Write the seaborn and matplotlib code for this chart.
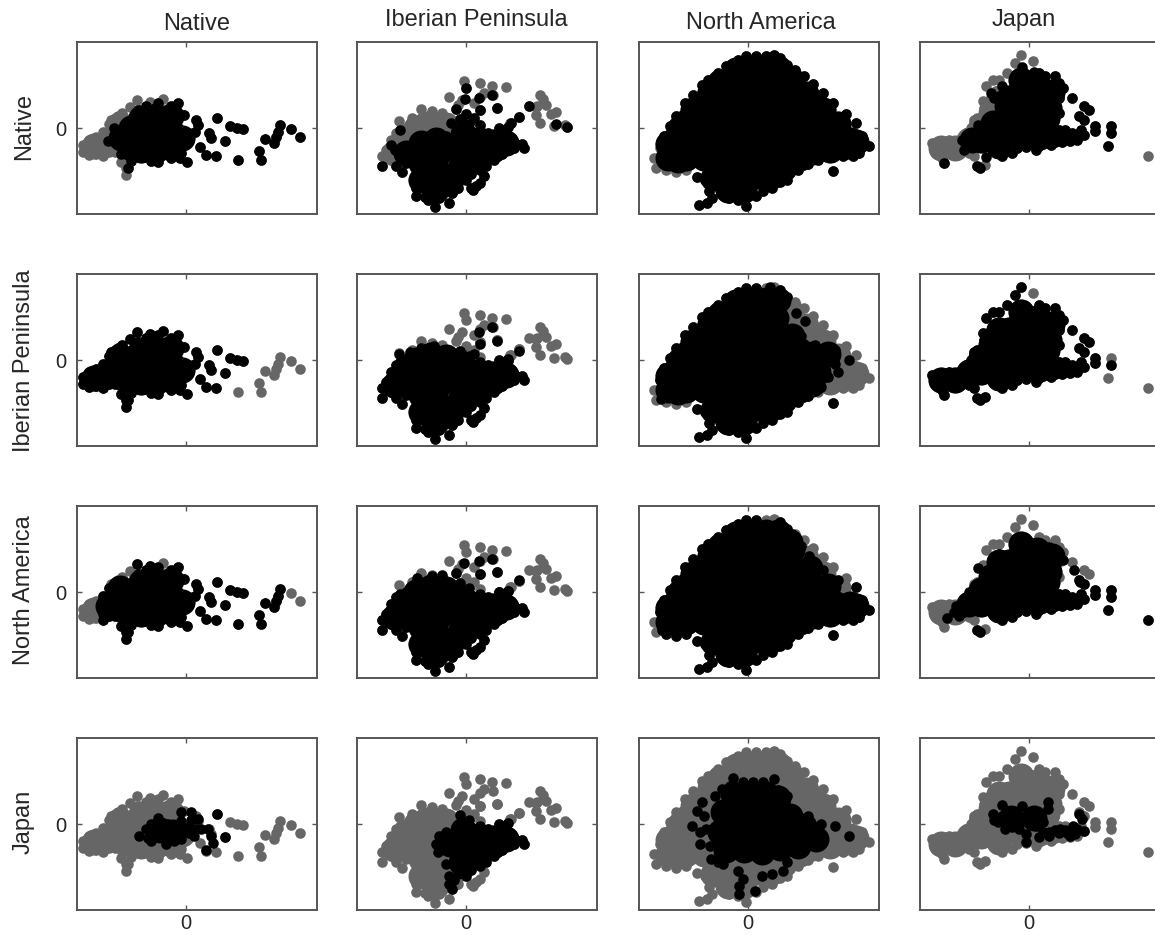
import numpy as np
import matplotlib
matplotlib.use("Agg")
import matplotlib.pyplot as plt
import seaborn as sns

WIDTH, HEIGHT = 1155, 935
GRAY = "#666666"
BLACK = "#000000"
TEXT = "#262626"
FRAME = "#555555"

REGIONS = ["Native", "Iberian Peninsula", "North America", "Japan"]
TICKS = [0]

# all points, offset from the 0 ticks of each panel
# CORE arrays are the solid middle of a cloud, drawn with a bigger dot

# --- Native column ---
N_TAIL_L = [(-103, -17), (-103, -24), (-97, -12), (-97, -20), (-97, -27), (-90, -9), (-90, -17), (-90, -26)]
N_TAIL_R = [(-83, -4), (-83, -12), (-83, -22), (-83, -28), (-77, 4), (-77, -5), (-77, -14), (-77, -24),
            (-71, 7), (-71, -2), (-71, -12), (-71, -24)]
N_UPPER_L = [(-75, 8), (-64, 15), (-56, 21), (-68, 12)]
N_UPPER_T = [(-49, 28), (-36, 26), (-23, 29)]
N_SPIKE = [(-60, -47), (-60, -40), (-65, -34)]
N_CORE = [(-65, -10), (-55, -20), (-55, 0), (-45, -22), (-45, -4), (-45, 10), (-30, -22), (-30, -5), (-30, 12),
          (-15, -20), (-15, -3), (-15, 12), (-4, -10)]
N_CORE_TAIL = [(-92, -18), (-78, -14), (-66, 4)]
N_EDGE = [(-78, -13), (-72, 0), (-65, -26), (-55, -33), (-50, 14), (-40, 22), (-28, 25), (-15, 22), (-8, 25),
          (-35, -33), (-28, -34), (-15, -30), (-5, -25), (2, -13), (3, -5), (-2, 13), (-6, -30), (-58, -40), (-48, 18)]
N_RIGHT = [(1, -34), (10, 8), (12, 3), (9, -4), (23, -5), (25, -10), (14, -19), (20, -27), (30, -28), (31, 10),
           (39, -13), (44, 2), (51, 0), (57, -1)]
N_FAR = [(52, -32), (73, -23), (75, -32), (79, -11), (88, -15), (90, -9), (92, -4), (94, 3), (105, -1), (114, -9)]
N_JAPAN = [(-47, -12), (-40, -5), (-38, -14), (-35, -17), (-28, 6), (-28, -3), (-28, -12), (-20, -3), (-20, -12),
           (-20, -20), (-12, -8), (-12, -17), (-5, -5), (-5, -15), (-5, -2), (-18, 0), (-35, 0), (-35, -8), (5, 12),
           (5, 4), (12, 5), (10, -5), (8, -12), (15, -5), (22, -5), (25, -12), (27, -19), (20, -26), (31, 10),
           (39, -13), (-5, 12), (-5, 3), (3, -3), (3, -9)]
N_JAPAN_CORE = [(-26, -6), (-13, -8)]

# --- Iberian Peninsula column ---
I_TOP = [(-2, 47), (0, 40), (14, 45), (26, 42), (40, 41), (-17, 31), (-4, 28), (-8, 23), (18, 35), (14, 31),
         (8, 25), (27, 33), (31, 20), (14, 18)]
I_FAR = [(63, 22), (71, 22), (74, 33), (77, 29), (80, 23), (70, 13), (70, 21), (74, 5), (85, 14), (90, 16),
         (88, 2), (99, 3), (101, 1), (53, 11), (44, 5)]
I_UL_HIGH = [(-67, 7), (-54, 10), (-45, 19), (-34, 17), (-24, 15), (-45, 10)]
I_UL_LOW = [(-84, -28), (-80, -22), (-75, -12), (-70, -5), (-60, 0), (-50, 0), (-40, 5), (-30, 8), (-20, 8),
            (-60, -10), (-50, -10), (-72, -18)]
I_LEFT_LOW = [(-71, -22), (-65, -28), (-84, -38), (-70, -38), (-64, -44), (-60, -35), (-52, -18), (-50, -30),
              (-60, -22), (-66, -2), (-75, -17)]
I_CORE_LEFT = [(-72, -25), (-62, -12), (-50, 0), (-35, 5), (-20, 3)]
I_CORE_SOUTH = [(-60, -25), (-45, -15), (-45, -35), (-45, -52), (-30, -12), (-30, -30), (-30, -48), (-30, -62),
                (-16, -55)]
I_SOUTH = [(-45, -50), (-50, -60), (-50, -68), (-41, -69), (-38, -72), (-31, -79), (-27, -70), (-17, -75),
           (-8, -60), (-40, -28), (10, -58), (14, -55), (5, -60), (7, -62), (18, -48)]
I_CORE_EAST = [(-16, -20), (-3, -6), (-2, -22), (-5, -38), (12, -15), (12, -30), (27, -14), (27, -22), (40, -15)]
I_EAST = [(-30, -20), (-27, -12), (-28, -28), (-20, -8), (-6, 9), (3, 4), (-10, -5), (5, -3), (14, -2), (22, -5),
          (33, 0), (42, 1), (32, -8), (40, -12), (40, -20), (36, -26), (48, -14), (48, -20), (56, -16), (58, -20),
          (28, -32), (20, -38), (14, -42), (5, -46), (0, -52), (-8, -50), (-17, -52), (-17, -60), (-14, -65),
          (-12, -56), (-20, -40)]
I_RIDGE = [(0, 14), (8, 10), (-5, 8), (-15, 5), (14, 3), (-10, 19), (14, 18), (31, 20), (45, 5), (53, 11)]
I_SPARSE_1 = [(0, 40), (-1, 29), (13, 30), (26, 33), (63, 22), (90, 4), (101, 1)]
I_SPARSE_2 = [(13, 28), (26, 33), (14, 16), (31, 19), (53, 9), (42, -1), (-32, 14), (-4, 6), (8, 6), (-67, 6),
              (-56, 8), (-45, 12)]
I_SPARSE_3 = [(-2, 29), (13, 31), (26, 33), (31, 20), (14, 18), (53, 12), (-34, 16), (-24, 17), (-10, 19),
              (-49, 14), (33, 0), (42, 1)]

# --- North America column ---
C_CORE_W = [(0, 60), (18, 60), (30, 60),
            (-25, 42), (-8, 42), (10, 42), (28, 42),
            (-45, 24), (-28, 24), (-10, 24), (8, 24), (26, 24), (44, 24),
            (-62, 6), (-44, 6), (-26, 6), (-8, 6), (10, 6), (28, 6), (46, 6), (64, 6), (80, 6),
            (-74, -12), (-56, -12), (-38, -12), (-20, -12), (-2, -12), (16, -12), (34, -12), (52, -12), (70, -12),
            (-80, -30), (-62, -30), (-44, -30), (-26, -30), (-8, -30), (10, -30), (28, -30), (46, -30),
            (-28, -48), (-10, -48), (8, -48), (24, -48),
            (-20, -62), (-4, -62)]
C_FILL_W = [(-38, 36), (-55, 18), (-68, 0), (-80, -16), (-12, 58), (-28, 46), (-35, -50), (36, -40), (52, -30),
            (64, -24), (-70, -32), (42, 50)]
C_CORE_NE = [(44, 42), (62, 24), (58, 34), (75, 18), (90, 4)]
C_CORE_E = [(88, -12), (102, -12), (82, -22), (100, -18), (108, -14)]
C_EDGE_W = [(8, 72), (-2, 72), (-10, 68), (-22, 62), (-30, 55), (-40, 48), (-46, 43), (-55, 33), (-63, 25),
            (-72, 12), (-78, 2), (-84, -8), (-51, -49), (-43, -52), (-39, -63), (-36, -70), (-49, -77), (-41, -75),
            (-19, -70), (-10, -72), (-2, -78), (8, -68), (15, -63), (24, -60), (32, -54), (39, -52), (50, -42),
            (60, -36), (85, -43), (39, 63), (32, 70)]
C_EDGE_TOP = [(26, 73), (18, 72)]
C_SW_A = [(-88, -20), (-82, -42), (-72, -44), (-62, -42)]
C_SW_B = [(-94, -30), (-92, -40)]
C_EDGE_NE = [(47, 58), (56, 52), (65, 44), (75, 35), (85, 25), (98, 14)]
C_EDGE_E = [(70, -32), (108, 5), (114, -8), (121, -18), (111, -25), (105, -28), (95, -28)]
C_ROW2 = [(48, 47), (57, 39), (53, 24), (56, 16), (67, 15), (77, 8), (87, 10), (101, 0), (87, -4), (90, -12),
          (80, -17), (73, -27), (22, 73), (-88, -20), (-87, -39)]
C_ROW3 = [(53, 46), (61, 36), (75, 22), (90, 12), (44, 58), (-86, -38)]
C_J_CORE = [(-15, 30), (2, 30), (18, 30), (-25, 12), (-8, 12), (10, 12), (28, 12), (42, 8), (-28, -8), (-10, -6),
            (8, -6), (26, -6), (44, -8), (60, -12), (-22, -26), (-4, -26), (14, -28), (32, -24), (50, -22), (68, -15),
            (30, 26), (56, -2)]
C_J_DOTS = [(-46, 22), (-51, 13), (-56, -2), (-48, -8), (-48, -20), (-37, -35), (-30, -38), (-25, -40), (-15, 46),
            (-5, 42), (5, 42), (15, 42), (26, 45), (-26, 35), (-33, 28), (-18, 38), (-44, 8), (-42, -5), (-38, -22),
            (-10, -47), (-5, -55), (-9, -70), (-9, -62), (7, -67), (14, -52), (24, -50), (35, -47), (39, -38),
            (87, -2), (101, -12), (73, 0), (60, 8), (39, 28), (30, 34)]

# --- Japan column ---
J_CORE = [(-8, 48), (8, 42), (-20, 30), (-5, 30), (12, 28), (-15, 12), (2, 12), (18, 10), (-32, -2), (-15, -6),
          (2, -6), (18, -4), (-48, -12), (-30, -18), (23, 36), (20, 20)]
J_CORE_LEFT = [(-30, 30), (-38, 15), (-48, 2), (-60, -12)]
J_CORE_SW_L = [(-88, -20)]
J_CORE_SW_R = [(-74, -20)]
J_ROW1_CORE = [(-36, 5), (-57, -12), (-22, 22)]
J_ROW4_CORE = [(-18, 6), (5, 6)]
J_NE = [(26, 52), (30, 45), (34, 40), (25, 40), (43, 30), (30, 30), (55, 22), (60, 18), (22, 22), (30, 15), (25, 8),
        (10, 55), (16, 52)]
J_STRAND = [(5, -8), (10, -18), (18, -12), (22, -17), (28, -10), (35, -8), (41, -13), (43, -5), (50, -8), (55, -7),
            (52, -2), (55, 8), (50, 12), (7, -22), (-3, -19), (-17, -25), (-27, -28), (-27, -22), (-10, -15),
            (33, -14), (26, -14), (14, -16), (48, -12), (36, -2), (30, -2), (-12, -20), (2, -16)]
J_APEX = [(-8, 73), (4, 67), (-14, 65), (-36, 48), (-43, 42), (-46, 27), (-55, 8), (-63, -5), (-22, 55), (-30, 48),
          (-38, 30), (-45, 20), (-52, 10), (-58, 0)]
J_SW = [(-97, -15), (-92, -15), (-88, -13), (-80, -12), (-94, -23), (-86, -20), (-78, -20), (-70, -12), (-70, -22),
        (-60, -25), (-55, -28), (-44, -37), (-80, -24)]
J_SW_LOW = [(-85, -35), (-87, -30), (-49, -40), (-52, -38)]
J_RIGHT = [(66, 2), (66, -3), (82, 2), (82, -5), (79, -18)]
J_OUT = [(119, -28)]
J_ROW1 = [(-7, 61), (5, 56), (-38, 35), (-35, 30), (-30, 32), (-29, 21), (-51, 3), (-67, -12), (-65, -22), (-43, -29),
          (-27, 42)]
J_ROW3 = [(-51, 24), (-73, -14), (-82, -26), (-75, -20), (-70, -24), (-40, 15), (-42, 22), (-30, 38), (-8, 52), (5, 48),
          (20, 45), (34, 32), (45, 22), (51, 10), (-60, 0), (-65, -20)]
J_ROW4 = [(-36, 10), (-27, 19), (-7, 18), (19, 22), (19, 15), (5, 13), (-31, 2), (-24, -5), (-9, 2), (0, 8), (7, -2),
          (-3, -10), (-3, -18), (10, -13), (20, -8), (31, -5), (41, -12), (44, -2), (55, -7), (50, 10), (53, 5),
          (14, 2), (3, 5), (-17, 3), (-27, 8), (-17, -3), (-10, -5), (-24, 5), (-14, 12), (26, -6), (36, -6),
          (14, -8), (48, -5), (38, -9), (30, -9), (20, -12), (46, -10), (10, 0), (-35, 4)]

# gray dots and cores per column
GRAY_DOTS = [
    N_TAIL_L + N_TAIL_R + N_UPPER_L + N_UPPER_T + N_SPIKE + N_EDGE + N_RIGHT + N_FAR,
    I_TOP + I_FAR + I_UL_HIGH + I_UL_LOW + I_LEFT_LOW + I_SOUTH + I_EAST + I_RIDGE,
    C_EDGE_W + C_EDGE_TOP + C_SW_A + C_SW_B + C_EDGE_NE + C_EDGE_E,
    J_NE + J_STRAND + J_APEX + J_SW + J_SW_LOW + J_RIGHT + J_OUT,
]
GRAY_CORES = [
    N_CORE + N_CORE_TAIL,
    I_CORE_LEFT + I_CORE_SOUTH + I_CORE_EAST,
    C_CORE_W + C_FILL_W + C_CORE_NE + C_CORE_E,
    J_CORE + J_CORE_LEFT + J_CORE_SW_L + J_CORE_SW_R,
]

# black dots per panel, row by row
BLACK_DOTS = [
    [N_EDGE + N_RIGHT + N_FAR,
     I_LEFT_LOW + I_SOUTH + I_EAST + I_RIDGE + I_SPARSE_1,
     C_EDGE_W + C_EDGE_TOP + C_EDGE_NE + C_EDGE_E,
     J_ROW1 + J_NE + J_STRAND + J_RIGHT + J_SW_LOW[:1] + J_SW_LOW[2:]],
    [N_TAIL_L + N_TAIL_R + N_UPPER_L + N_UPPER_T + N_SPIKE + N_EDGE + N_RIGHT,
     I_UL_LOW + I_LEFT_LOW + I_SOUTH + I_EAST + I_SPARSE_2,
     C_EDGE_W + C_ROW2,
     J_APEX[0:1] + J_APEX[2:] + J_NE + J_STRAND + J_SW + J_SW_LOW + J_RIGHT[:2] + J_RIGHT[3:4]],
    [N_TAIL_R + N_UPPER_T[:2] + N_SPIKE + N_EDGE + N_RIGHT + N_FAR[:8],
     I_UL_LOW + I_LEFT_LOW + I_SOUTH + I_EAST + I_SPARSE_3,
     C_EDGE_W + C_SW_A + C_EDGE_E + C_ROW3,
     J_ROW3 + J_STRAND + J_RIGHT + J_OUT + J_SW_LOW[2:]],
    [N_JAPAN,
     I_EAST,
     C_J_DOTS,
     J_ROW4],
]
BLACK_CORES = [
    [N_CORE, I_CORE_SOUTH + I_CORE_EAST, C_CORE_W + C_FILL_W + C_CORE_NE + C_CORE_E,
     J_CORE + J_ROW1_CORE],
    [N_CORE + N_CORE_TAIL, I_CORE_LEFT + I_CORE_SOUTH + I_CORE_EAST, C_CORE_W + C_FILL_W[:-1],
     J_CORE + J_CORE_LEFT + J_CORE_SW_L + J_CORE_SW_R],
    [N_CORE + N_CORE_TAIL[1:], I_CORE_LEFT + I_CORE_SOUTH + I_CORE_EAST,
     C_CORE_W + C_FILL_W + C_CORE_NE[:2] + C_CORE_E, J_CORE + J_CORE_LEFT],
    [N_JAPAN_CORE, I_CORE_EAST, C_J_CORE, J_ROW4_CORE],
]

COL_LEFT = [77, 357, 639, 920]
ROW_TOP = [42, 274, 506, 738]
PANEL_W, PANEL_H = 240, 172
DOT = 58
CORE = 350


def draw(ax, points, color, size):
    if not points:
        return
    xy = np.array(points)
    sns.scatterplot(x=xy[:, 0], y=xy[:, 1], color=color, s=size, linewidth=0, ax=ax, legend=False, zorder=3)


sns.set_theme(style="white")
plt.rcParams["font.family"] = ["Liberation Sans", "DejaVu Sans"]

fig = plt.figure(figsize=(WIDTH / 100, HEIGHT / 100), dpi=100)

for r, top in enumerate(ROW_TOP):
    for c, left in enumerate(COL_LEFT):
        ax = fig.add_axes([left / WIDTH, 1 - (top + PANEL_H) / HEIGHT, PANEL_W / WIDTH, PANEL_H / HEIGHT])
        draw(ax, GRAY_DOTS[c], GRAY, DOT)
        draw(ax, GRAY_CORES[c], GRAY, CORE)
        draw(ax, BLACK_DOTS[r][c], BLACK, DOT)
        draw(ax, BLACK_CORES[r][c], BLACK, CORE)
        ax.set_xlim(-109, 131)
        ax.set_ylim(-86, 86)
        ax.set_xticks(TICKS)
        ax.set_yticks(TICKS)
        ax.set_xticklabels(["0"] if r == 3 else [""], fontsize=14.5, color=TEXT)
        ax.set_yticklabels(["0"] if c == 0 else [""], fontsize=14.5, color=TEXT)
        ax.tick_params(direction="in", length=3.5, width=1, color=FRAME, top=True, right=True, bottom=True, left=True)
        ax.tick_params(axis="x", pad=3)
        ax.tick_params(axis="y", pad=8)
        for spine in ax.spines.values():
            spine.set_color(FRAME)
            spine.set_linewidth(1.4)

# column and row headers
for name, x, y in zip(REGIONS, [197, 476, 761, 1024], [24, 20, 23, 20]):
    fig.text(x / WIDTH, 1 - y / HEIGHT, name, ha="center", va="center", fontsize=17, color=TEXT)
for name, y in zip(REGIONS, [127, 361, 590, 822]):
    fig.text(24 / WIDTH, 1 - y / HEIGHT, name, ha="center", va="center", rotation=90, fontsize=17, color=TEXT)

fig.savefig("out.png", dpi=100, facecolor="white")
